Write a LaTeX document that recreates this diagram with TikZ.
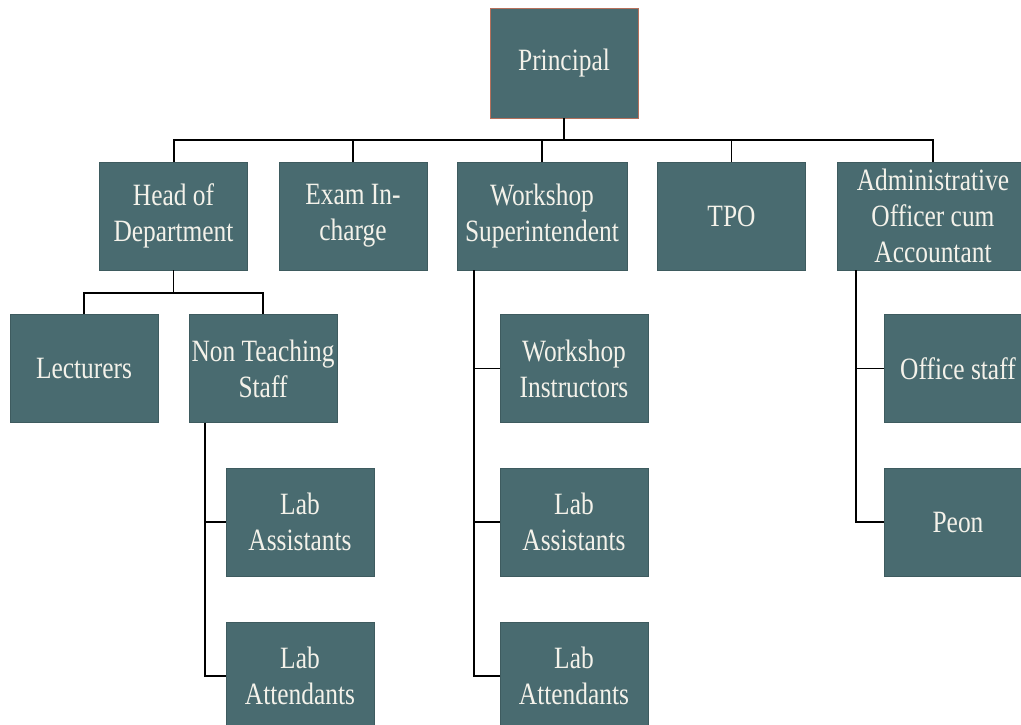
\documentclass[tikz,border=0pt]{standalone}
\usepackage{fontspec}
\setmainfont[FakeStretch=0.82]{Liberation Serif}
\usepackage{tikz}
\usetikzlibrary{positioning}

\definecolor{boxteal}{HTML}{496B70}
\definecolor{boxtext}{HTML}{F4F2EA}
\definecolor{rustline}{HTML}{B5705C}

\begin{document}
\begin{tikzpicture}[x=1pt, y=-1pt, line width=1.5pt, semithick]
	\tikzstyle{post}=[fill=boxteal, draw=boxteal!85!black, line width=0.4pt, text=boxtext, align=center, inner sep=1pt, minimum width=148pt, minimum height=108pt, font=\fontsize{31}{36}\selectfont]
	\tikzstyle{link}=[draw=black, line width=1.6pt]
	\clip (0,0) rectangle (1021,725);
	\fill[white] (0,0) rectangle (1021,725);

	% top
	\node[post, draw=rustline, minimum height=110pt] (princ) at (564,63) {Principal};

	% second row
	\node[post] (hod) at (173.5,216) {Head of\\Department};
	\node[post] (exam) at (353,216) {Exam In-\\charge};
	\node[post, minimum width=170pt] (wsup) at (542,216) {Workshop\\Superintendent};
	\node[post] (tpo) at (731.5,216) {TPO};
	\node[post, minimum width=192pt] (admin) at (933,216) {Administrative\\Officer cum\\Accountant};

	% under head of department
	\node[post] (lect) at (84,368.5) {Lecturers};
	\node[post] (nts) at (263,368.5) {Non Teaching\\Staff};
	\node[post] (labas1) at (300,522) {Lab\\Assistants};
	\node[post] (labat1) at (300,676) {Lab\\Attendants};

	% under workshop superintendent
	\node[post] (winst) at (574,368.5) {Workshop\\Instructors};
	\node[post] (labas2) at (574,522) {Lab\\Assistants};
	\node[post] (labat2) at (574,676) {Lab\\Attendants};

	% under administrative officer
	\node[post] (ostaff) at (958,368.5) {Office staff};
	\node[post] (peon) at (958,522) {Peon};

	\coordinate (bus) at (0,140);
	\coordinate (hbus) at (0,293);

	\draw[link, line width=2pt] (princ.south) -- (princ.south |- bus);
	\draw[link, line width=2pt] (hod.north) -- (hod.north |- bus) -- (admin.north |- bus) -- (admin.north);
	\draw[link] (exam.north) -- (exam.north |- bus);
	\draw[link] (wsup.north) -- (wsup.north |- bus);
	\draw[link] (tpo.north) -- (tpo.north |- bus);

	\draw[link] (hod.south) -- (hod.south |- hbus);
	\draw[link] (lect.north) -- (lect.north |- hbus) -- (nts.north |- hbus) -- (nts.north);

	\draw[link] ([xshift=-58pt]nts.south) |- (labas1.west);
	\draw[link] ([xshift=-58pt]nts.south) |- (labat1.west);

	\draw[link] ([xshift=17pt]wsup.south west) |- (winst.west);
	\draw[link] ([xshift=17pt]wsup.south west) |- (labas2.west);
	\draw[link] ([xshift=17pt]wsup.south west) |- (labat2.west);

	\draw[link] ([xshift=19pt]admin.south west) |- (ostaff.west);
	\draw[link] ([xshift=19pt]admin.south west) |- (peon.west);

\end{tikzpicture}
\end{document}
